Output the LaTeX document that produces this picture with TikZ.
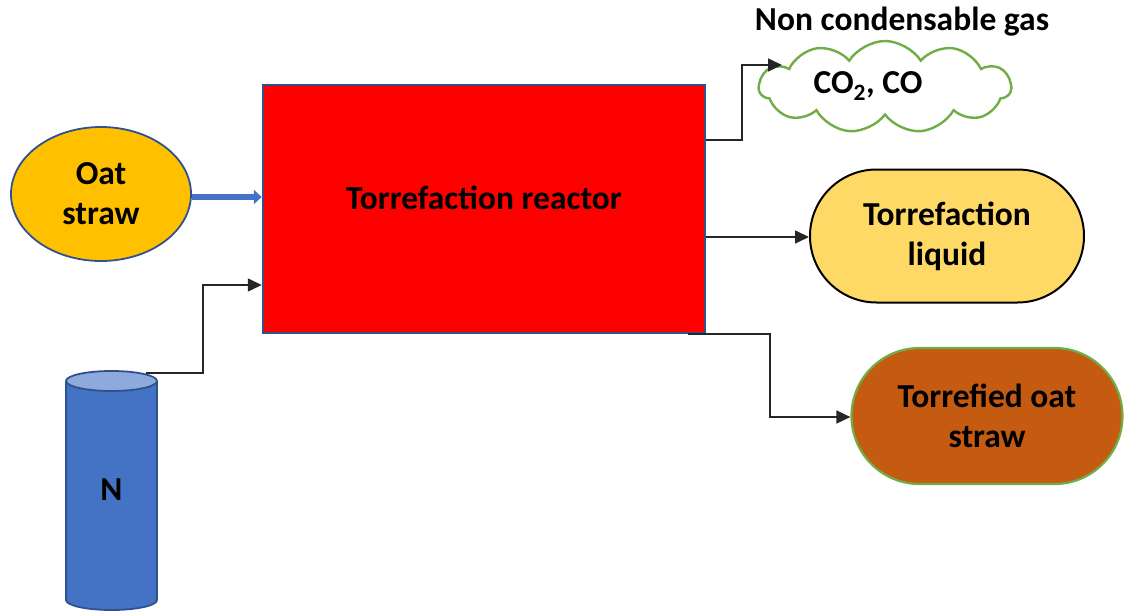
\documentclass[tikz,border=0pt]{standalone}
\usepackage{fontspec}
\setmainfont{Carlito}
\usetikzlibrary{shapes.geometric,shapes.misc,shapes.symbols,arrows.meta}
\definecolor{bluefill}{HTML}{4472C4}
\definecolor{blueline}{HTML}{2F528F}
\definecolor{bluetop}{HTML}{8EA9DB}
\definecolor{oat}{HTML}{FFC000}
\definecolor{liquid}{HTML}{FFD966}
\definecolor{solid}{HTML}{C55A11}
\definecolor{leaf}{HTML}{70AD47}
\tikzset{
  lbl/.style={font=\bfseries\fontsize{33.5}{40}\selectfont, align=center, text=black},
  arr/.style={draw=black!85, line width=1.6pt, -{Triangle[length=14pt,width=13pt]}},
  feedarr/.style={draw=bluefill, line width=5.5pt, -{Triangle[length=8pt,width=14pt]}},
}
\begin{document}
\begin{tikzpicture}[x=1pt,y=-1pt]
\useasboundingbox (0,0) rectangle (1125,613);

% reactor
\node[draw=blueline, line width=2.5pt, fill=red, minimum width=442pt, minimum height=248pt, inner sep=0pt] (reactor) at (484,209) {};
\node[lbl] (reactorlbl) at (484,198) {Torrefaction reactor};

% feed
\node[ellipse, draw=blueline, line width=1.8pt, fill=oat, minimum width=180pt, minimum height=134pt, inner sep=0pt, lbl] (oat) at (101,194) {Oat\\straw};

% nitrogen tank
\fill[bluefill] (66,381) -- (66,600) arc[start angle=180,end angle=0,x radius=45.5,y radius=10] -- (157,381) -- cycle;
\draw[blueline, line width=1.8pt] (66,381) -- (66,600) arc[start angle=180,end angle=0,x radius=45.5,y radius=10] -- (157,381);
\draw[blueline, line width=1.8pt, fill=bluetop] (111.5,381) ellipse[x radius=45.5, y radius=10];
\node[lbl] (ntank) at (111.5,490) {N};
\coordinate (ntop) at (146,373);
\coordinate (nbend) at (203,285);

% products
\node[cloud, cloud puffs=11, cloud puff arc=115, aspect=2.9, draw=leaf, line width=2.4pt, fill=white, minimum width=252pt, minimum height=92pt, inner sep=0pt] (gas) at (885,87) {};
\node[lbl] (gaslbl) at (868,86) {CO\textsubscript{2}, CO};
\node[lbl] (gastitle) at (902,22) {Non condensable gas};
\coordinate (gasin) at (782,65);

\node[rounded rectangle, draw=black, line width=2pt, fill=liquid, minimum width=274pt, minimum height=133pt, inner sep=0pt, lbl] (liquid) at (947,236) {Torrefaction\\liquid};

\node[rounded rectangle, draw=leaf, line width=2.2pt, fill=solid, minimum width=271pt, minimum height=136pt, inner sep=0pt, lbl] (char) at (987,416) {Torrefied oat\\straw};

% connectors
\draw[feedarr] (oat.east |- 0,197) -- (reactor.west |- 0,197);
\draw[arr] (ntop) -| (nbend) -- (nbend -| reactor.west);
\draw[arr] (reactor.east |- 0,140) -| (742,65) -- (gasin);
\draw[arr] (reactor.east |- 0,237) -- (liquid.west |- 0,237);
\draw[arr] (688,334) -| (770,417) -- (char.west |- 0,417);
\end{tikzpicture}
\end{document}
